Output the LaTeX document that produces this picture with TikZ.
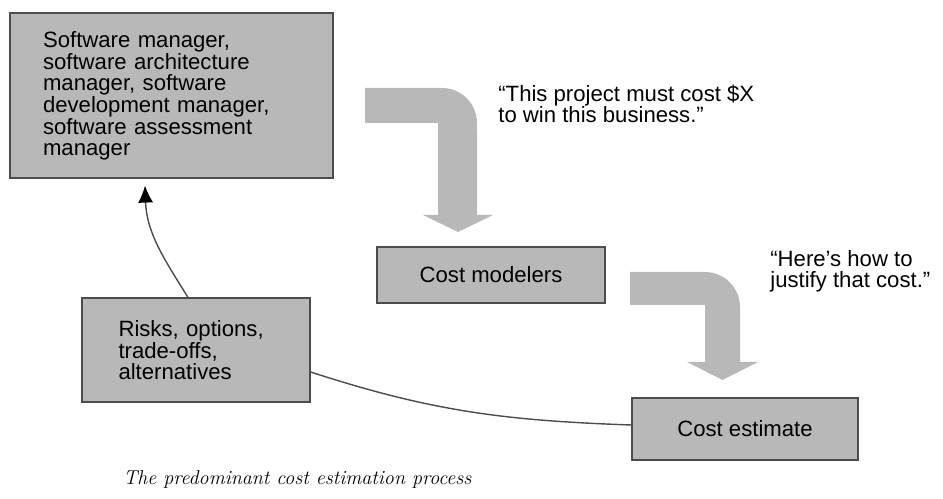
\documentclass[tikz,border=0pt]{standalone}
\usepackage{fontspec}
\setsansfont{Liberation Sans}
\usetikzlibrary{arrows.meta}
\definecolor{boxgray}{gray}{0.72}
\definecolor{edgegray}{gray}{0.3}

\begin{document}
\begin{tikzpicture}[x=0.02cm, y=0.02cm,
  box/.style={rectangle, draw=edgegray, line width=0.7pt, fill=boxgray, font=\sffamily\fontsize{12.6}{11.6}\selectfont},
  saying/.style={font=\sffamily\fontsize{12.6}{12.4}\selectfont, align=left, anchor=base west, inner sep=0pt},
  bentarrow/.style={fill=boxgray},
  link/.style={draw=edgegray, line width=0.8pt}]
\useasboundingbox (0,0) rectangle (943,499);
% Define the nodes
\node[box, minimum height=3.3cm, text width=5.14cm, inner xsep=0.66cm, align=left] at (171.5,403.5) (mgr) {Software manager,\\ software architecture\\ manager, software\\ development manager,\\ software assessment\\ manager};
\node[box, minimum width=4.56cm, minimum height=1.12cm] at (491,224) (modelers) {Cost modelers};
\node[box, minimum width=4.52cm, minimum height=1.24cm] at (745,70) (estimate) {Cost estimate};
\node[box, minimum height=2.08cm, text width=3.1cm, inner xsep=0.73cm, align=left] at (196,149) (risks) {Risks, options,\\ trade-offs,\\ alternatives};
\node[saying] at (498,376) (mustcost) {“This project must cost \$X\\ to win this business.”};
\node[saying] at (770,211) (justify) {“Here’s how to\\ justify that cost.”};
\node[anchor=base west, inner sep=0pt, font=\itshape\fontsize{11.4}{14}\selectfont] at (123,14) (caption) {The predominant cost estimation process};
% Draw the bent arrows
\fill[bentarrow] (365,411) -- (442,411) arc[start angle=90, end angle=0, radius=0.7cm]
  -- (477,284) -- (493,284) -- (458,267) -- (423,284) -- (438,284) -- (438,376) -- (365,376) -- cycle;
\fill[bentarrow] (630,227) -- (705,227) arc[start angle=90, end angle=0, radius=0.7cm]
  -- (740,137) -- (758,137) -- (722.5,119) -- (687,137) -- (705,137) -- (705,194) -- (630,194) -- cycle;
% Draw the paths
\draw[link, -{Latex[length=0.34cm, width=0.3cm, color=black]}] ([xshift=-0.16cm]risks.north) to[out=122, in=-88] ([xshift=-0.53cm, yshift=-0.14cm]mgr.south);
\draw[link] ([yshift=-0.44cm]risks.east) to[out=-18, in=178] ([yshift=0.08cm]estimate.west);
\end{tikzpicture}
\end{document}
